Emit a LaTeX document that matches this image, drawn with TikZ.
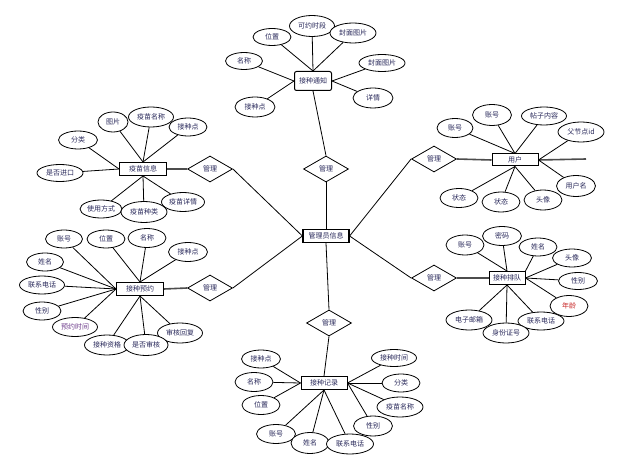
\documentclass[tikz,border=0pt]{standalone}
\usepackage{fontspec}
\newfontfamily\cjk{Noto Sans CJK SC}
\usetikzlibrary{shapes.geometric,backgrounds}
\definecolor{txt}{RGB}{40,40,90}
\definecolor{txtred}{RGB}{200,40,40}
\definecolor{txtpur}{RGB}{110,60,140}
\begin{document}
\begin{tikzpicture}[x=1pt,y=-1pt,
  font=\cjk\fontsize{7}{8}\selectfont,
  ea/.style 2 args={ellipse,draw,fill=white,inner sep=0pt,line width=0.8pt,minimum width=#1pt,minimum height=#2pt,text=txt},
  ent/.style={rectangle,draw,fill=white,line width=1pt,inner sep=0pt,minimum width=46pt,minimum height=13pt,text=txt},
  rel/.style={diamond,draw,fill=white,inner sep=0pt,line width=0.8pt,minimum width=45pt,minimum height=26pt,text=txt},
  ln/.style={line width=0.8pt},
  thk/.style={line width=1.6pt,draw=black!70}]
\useasboundingbox (0,0) rectangle (639,462);

% ---------- entities ----------
\node[ent,rounded corners=2pt,minimum width=37pt,minimum height=19pt] (tz) at (313,81) {接种通知};
\node[ent,line width=1.2pt] (admin) at (326,236) {管理员信息};
\node[ent,minimum width=47pt] (vi) at (143,169) {疫苗信息};
\node[ent,minimum width=47pt] (ap) at (140,289) {接种预约};
\node[ent,minimum height=12pt] (us) at (515,160) {用户};
\node[ent,minimum width=36pt] (qu) at (507,278) {接种排队};
\node[ent] (rec) at (324,383) {接种记录};

% ---------- relations ----------
\node[rel] (dT) at (326,169) {管理};
\node[rel] (dLT) at (210,169) {管理};
\node[rel] (dLB) at (210,288) {管理};
\node[rel] (dRT) at (434,159) {管理};
\node[rel] (dRB) at (434,278) {管理};
\node[rel] (dB) at (329,323) {管理};
\coordinate (usend) at (586,159);

% ---------- top cluster ----------
\node[ea={45}{21}] (t1) at (312,26) {可约时段};
\node[ea={38}{17}] (t3) at (272,37) {位置};
\node[ea={46}{20}] (t2) at (353,33) {封面图片};
\node[ea={37}{17}] (t4) at (244,61) {名称};
\node[ea={46}{17}] (t5) at (382,63) {封面图片};
\node[ea={40}{20}] (t6) at (373,98) {详情};
\node[ea={40}{20}] (t7) at (255,107) {接种点};

% ---------- vaccine info ----------
\node[ea={30}{20}] (v1) at (113,122) {图片};
\node[ea={45}{20}] (v2) at (151,117) {疫苗名称};
\node[ea={38}{18}] (v3) at (188,127) {接种点};
\node[ea={39}{18}] (v4) at (78,140) {分类};
\node[ea={46}{17}] (v5) at (60,173) {是否进口};
\node[ea={42}{18}] (v6) at (101,209) {使用方式};
\node[ea={43}{19}] (v8) at (183,202) {疫苗详情};
\node[ea={46}{21}] (v7) at (144,212) {疫苗种类};

% ---------- appointment ----------
\node[ea={37}{18}] (a1) at (64,239) {账号};
\node[ea={38}{18}] (a2) at (106,239) {位置};
\node[ea={38}{19}] (a3) at (147,238) {名称};
\node[ea={39}{19}] (a4) at (188,252) {接种点};
\node[ea={37}{18}] (a5) at (45,262) {姓名};
\node[ea={45}{18}] (a6) at (42,285) {联系电话};
\node[ea={38}{18}] (a7) at (42,311) {性别};
\node[ea={45}{19},text=txtpur] (a8) at (75,327) {预约时间};
\node[ea={45}{20}] (a11) at (180,333) {审核回复};
\node[ea={45}{20}] (a9) at (107,345) {接种资格};
\node[ea={44}{21}] (a10) at (146,345) {是否审核};

% ---------- user ----------
\node[ea={36}{19}] (u1) at (455,128) {账号};
\node[ea={39}{21}] (u2) at (492,115) {账号};
\node[ea={45}{18}] (u3) at (544,116) {帖子内容};
\node[ea={46}{20}] (u4) at (581,132) {父节点id};
\node[ea={39}{21}] (u5) at (576,186) {用户名};
\node[ea={38}{20}] (u6) at (543,200) {头像};
\node[ea={38}{20}] (u7) at (501,202) {状态};
\node[ea={38}{19}] (u8) at (459,198) {状态};

% ---------- queue ----------
\node[ea={38}{20}] (q1) at (465,245) {账号};
\node[ea={39}{19}] (q2) at (502,236) {密码};
\node[ea={38}{18}] (q3) at (538,247) {姓名};
\node[ea={39}{18}] (q4) at (572,258) {头像};
\node[ea={39}{17}] (q5) at (578,281) {性别};
\node[ea={38}{21},text=txtred] (q6) at (569,306) {年龄};
\node[ea={46}{20}] (q9) at (469,320) {电子邮箱};
\node[ea={46}{18}] (q7) at (541,321) {联系电话};
\node[ea={46}{20}] (q8) at (506,333) {身份证号};

% ---------- record ----------
\node[ea={39}{18}] (r1) at (261,359) {接种点};
\node[ea={38}{19}] (r2) at (254,382) {名称};
\node[ea={38}{19}] (r3) at (261,405) {位置};
\node[ea={45}{17}] (r4) at (394,358) {接种时间};
\node[ea={38}{18}] (r5) at (401,383) {分类};
\node[ea={46}{20}] (r6) at (400,407) {疫苗名称};
\node[ea={39}{20}] (r7) at (373,426) {性别};
\node[ea={39}{19}] (r8) at (276,434) {账号};
\node[ea={38}{21}] (r9) at (310,443) {姓名};
\node[ea={47}{20}] (r10) at (350,444) {联系电话};

% ---------- connectors ----------
\begin{scope}[on background layer]
\fill[white] (0,0) rectangle (639,462);
\draw[ln] (tz.north) -- (t1);
\draw[ln] (tz.north) -- (t2);
\draw[ln] (tz.north) -- (t3);
\draw[ln] (tz.west) -- (t4);
\draw[ln] (tz.west) -- (t7);
\draw[ln] (tz.east) -- (t5);
\draw[ln] (tz.east) -- (t6);
\draw[ln] (tz.south) -- (dT.north);
\draw[ln] (dT.south) -- (admin.north);
\draw[ln] (admin.west) -- (dLT.east);
\draw[ln] (admin.west) -- (dLB.east);
\draw[ln] (admin.east) -- (dRT.west);
\draw[ln] (admin.east) -- (dRB.west);
\draw[ln] (admin.south) -- (dB.north);
\draw[ln] (dB.south) -- (rec.north);
\draw[thk] (dLT.west) -- (vi.east);
\draw[thk] (dLB.west) -- (ap.east);
\draw[thk] (dRT.east) -- (us.west);
\draw[thk] (us.east) -- (usend);
\draw[thk] (dRB.east) -- (qu.west);
% vaccine info
\foreach \n in {v1,v2,v3} \draw[ln] (vi.north) -- (\n);
\foreach \n in {v4,v5} \draw[ln] (vi.west) -- (\n);
\foreach \n in {v6,v7,v8} \draw[ln] (vi.south) -- (\n);
% appointment
\foreach \n in {a2,a3,a4} \draw[ln] (ap.north) -- (\n);
\foreach \n in {a1,a5,a6,a7,a8} \draw[ln] (ap.west) -- (\n);
\foreach \n in {a9,a10,a11} \draw[ln] (ap.south) -- (\n);
% user
\foreach \n in {u1,u2,u3} \draw[ln] (us.north) -- (\n);
\foreach \n in {u4,u5} \draw[ln] (us.east) -- (\n);
\foreach \n in {u6,u7,u8} \draw[ln] (us.south) -- (\n);
% queue
\foreach \n in {q1,q2} \draw[ln] (qu.north) -- (\n);
\draw[ln] (qu.north east) -- (q3);
\foreach \n in {q4,q5,q6} \draw[ln] (qu.east) -- (\n);
\foreach \n in {q7,q8,q9} \draw[ln] (qu.south) -- (\n);
% record
\foreach \n in {r1,r2,r3} \draw[ln] (rec.west) -- (\n);
\foreach \n in {r4,r5,r6,r7} \draw[ln] (rec.east) -- (\n);
\foreach \n in {r8,r9,r10} \draw[ln] (rec.south) -- (\n);
\end{scope}
\end{tikzpicture}
\end{document}
